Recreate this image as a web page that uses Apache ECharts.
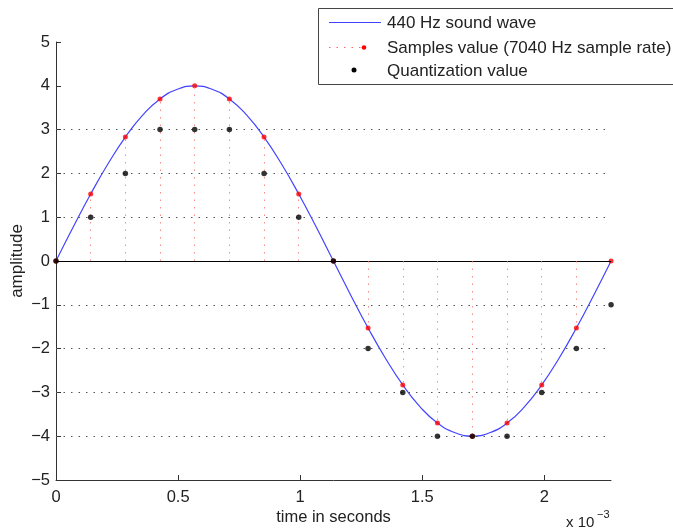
<!DOCTYPE html>
<html>
<head>
<meta charset="utf-8">
<script src="https://cdn.jsdelivr.net/npm/echarts@6/dist/echarts.min.js"></script>
<style>html,body{margin:0;padding:0;background:#fff}#c{width:673px;height:532px}</style>
</head>
<body>
<div id="c"></div>
<script>
// time in ms (axis labelled x 10^-3 s)
var waveTimes = [0, 0.071, 0.142, 0.213, 0.284, 0.355, 0.426, 0.497, 0.568, 0.639, 0.710, 0.781, 0.852, 0.923, 0.994, 1.065, 1.136, 1.207, 1.278, 1.349, 1.420, 1.491, 1.562, 1.634, 1.705, 1.776, 1.847, 1.918, 1.989, 2.060, 2.131, 2.202, 2.273];
var waveValues = [0, 0.78, 1.53, 2.22, 2.83, 3.33, 3.70, 3.92, 4.00, 3.92, 3.70, 3.33, 2.83, 2.22, 1.53, 0.78, 0, -0.78, -1.53, -2.22, -2.83, -3.33, -3.70, -3.92, -4.00, -3.92, -3.70, -3.33, -2.83, -2.22, -1.53, -0.78, 0];
var sampleTimes = [0, 0.142, 0.284, 0.426, 0.568, 0.710, 0.852, 0.994, 1.136, 1.278, 1.420, 1.562, 1.705, 1.847, 1.989, 2.131, 2.273];
var sampleValues = [0, 1.53, 2.83, 3.70, 4.00, 3.70, 2.83, 1.53, 0, -1.53, -2.83, -3.70, -4.00, -3.70, -2.83, -1.53, 0];
var quantValues = [0, 1, 2, 3, 3, 3, 2, 1, 0, -2, -3, -4, -4, -4, -3, -2, -1];
var quantLevels = [-4, -3, -2, -1, 1, 2, 3];
var xTicks = [0, 0.5, 1, 1.5, 2];
var xMax = 2.2727;
var legendLabels = ['440 Hz sound wave', 'Samples value (7040 Hz sample rate)', 'Quantization value'];

var FONT = 'Liberation Sans, Arial, Helvetica, sans-serif';
function pairs(xs, ys) { return xs.map(function (x, i) { return [x, ys[i]]; }); }

var chart = echarts.init(document.getElementById('c'), null, { renderer: 'canvas' });

var levelLines = quantLevels.map(function (v) {
  return [{ coord: [0, v] }, { coord: [xMax, v] }];
});
var stemLines = sampleTimes.map(function (t, i) {
  return [{ coord: [t, 0] }, { coord: [t, sampleValues[i]] }];
});

var option = {
  animation: false,
  backgroundColor: '#fff',
  textStyle: { fontFamily: FONT },
  grid: { left: 56, right: 62, top: 42, bottom: 52, containLabel: false, outerBoundsMode: 'none' },
  xAxis: {
    type: 'value', min: 0, max: xMax, interval: 0.5,
    splitLine: { show: false },
    axisLine: { show: true, onZero: false, lineStyle: { color: '#333', width: 1 } },
    axisTick: { show: true, inside: true, length: 5, customValues: xTicks, lineStyle: { color: '#333' } },
    axisLabel: { customValues: xTicks, color: '#222', fontSize: 16.5, fontFamily: FONT, margin: 9,
      formatter: function (v) { return String(v); } },
    name: 'time in seconds', nameLocation: 'middle', nameGap: 29, nameMoveOverlap: false,
    nameTextStyle: { color: '#222', fontSize: 16.5, fontFamily: FONT }
  },
  yAxis: {
    type: 'value', min: -5, max: 5, interval: 1,
    splitLine: { show: false },
    axisLine: { show: true, onZero: false, lineStyle: { color: '#333', width: 1 } },
    axisTick: { show: true, inside: true, length: 5, lineStyle: { color: '#333' } },
    axisLabel: { color: '#222', fontSize: 16.5, fontFamily: FONT, margin: 6,
      formatter: function (v) { return String(v).replace('-', '\u2212'); } },
    name: 'amplitude', nameLocation: 'middle', nameGap: 30, nameRotate: 90, nameMoveOverlap: false,
    nameTextStyle: { color: '#222', fontSize: 17, fontFamily: FONT }
  },
  series: [
    {
      type: 'line', data: [], silent: true,
      markLine: {
        silent: true, symbol: 'none', animation: false, label: { show: false },
        lineStyle: { color: '#555', width: 1, type: [1.5, 6] },
        data: levelLines
      }
    },
    {
      type: 'line', data: [], silent: true,
      markLine: {
        silent: true, symbol: 'none', animation: false, label: { show: false },
        lineStyle: { color: '#000', width: 1, type: 'solid' },
        data: [[{ coord: [0, 0] }, { coord: [xMax, 0] }]]
      }
    },
    {
      type: 'line', data: [], silent: true,
      markLine: {
        silent: true, symbol: 'none', animation: false, label: { show: false },
        lineStyle: { color: '#f66', width: 1, type: [1.5, 6], opacity: 0.75 },
        data: stemLines
      }
    },
    {
      name: legendLabels[0], type: 'line', smooth: 0.5, showSymbol: false,
      data: pairs(waveTimes, waveValues),
      lineStyle: { color: '#4444ff', width: 1.2 }, z: 3
    },
    {
      name: legendLabels[1], type: 'scatter', symbol: 'circle', symbolSize: 5,
      data: pairs(sampleTimes, sampleValues),
      itemStyle: { color: '#ff0000' }, z: 4
    },
    {
      name: legendLabels[2], type: 'scatter', symbol: 'circle', symbolSize: 5.5,
      data: pairs(sampleTimes, quantValues),
      itemStyle: { color: '#000' }, z: 5
    }
  ],
  graphic: [
    { type: 'rect', shape: { x: 318.5, y: 8.5, width: 360, height: 76 },
      style: { fill: '#fff', stroke: '#444', lineWidth: 1 }, z: 100 },
    { type: 'line', shape: { x1: 329, y1: 22.5, x2: 381, y2: 22.5 },
      style: { stroke: '#4444ff', lineWidth: 1.2 }, z: 101 },
    { type: 'line', shape: { x1: 329, y1: 47.5, x2: 362, y2: 47.5 },
      style: { stroke: '#f66', lineWidth: 1, lineDash: [1.5, 6] }, z: 101 },
    { type: 'circle', shape: { cx: 364, cy: 47.5, r: 2.3 }, style: { fill: '#f00' }, z: 102 },
    { type: 'circle', shape: { cx: 354, cy: 70, r: 2.5 }, style: { fill: '#000' }, z: 102 },
    { type: 'text', x: 387, y: 23, style: { text: legendLabels[0], fill: '#222', font: '17px ' + FONT, textVerticalAlign: 'middle' }, z: 102 },
    { type: 'text', x: 387, y: 48, style: { text: legendLabels[1], fill: '#222', font: '17px ' + FONT, textVerticalAlign: 'middle' }, z: 102 },
    { type: 'text', x: 387, y: 71, style: { text: legendLabels[2], fill: '#222', font: '17px ' + FONT, textVerticalAlign: 'middle' }, z: 102 },
    { type: 'text', x: 566, y: 523, style: { text: 'x 10', fill: '#222', font: '15px ' + FONT, textVerticalAlign: 'middle' }, z: 102 },
    { type: 'text', x: 597, y: 515, style: { text: '\u22123', fill: '#222', font: '11px ' + FONT, textVerticalAlign: 'middle' }, z: 102 }
  ]
};
chart.setOption(option);
</script>
</body>
</html>
